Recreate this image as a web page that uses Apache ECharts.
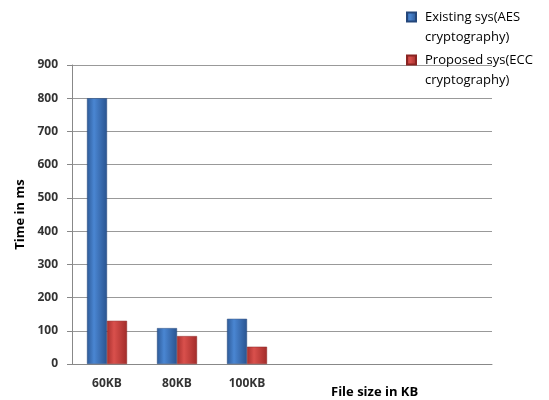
<!DOCTYPE html>
<html>
<head>
<meta charset="utf-8">
<script src="https://cdn.jsdelivr.net/npm/echarts@6/dist/echarts.min.js"></script>
<style>
  html, body { margin: 0; padding: 0; background: #fff; }
  #main { width: 549px; height: 400px; }
</style>
</head>
<body>
<div id="main"></div>
<script>
// categories (last three slots are empty in the original)
var categories = ['60KB', '80KB', '100KB', '', '', ''];
var existing = [800, 108, 136];
var proposed = [130, 84, 52];
var seriesNames = ['Existing sys(AES\ncryptography)', 'Proposed sys(ECC\ncryptography)'];
var yTicks = { min: 0, max: 900, step: 100 };

var font = 'Open Sans';

function grad(edge, mid, edge2) {
  return {
    type: 'linear', x: 0, y: 0, x2: 1, y2: 0,
    colorStops: [
      { offset: 0, color: edge },
      { offset: 0.35, color: mid },
      { offset: 1, color: edge2 }
    ]
  };
}

var chart = echarts.init(document.getElementById('main'));
chart.setOption({
  animation: false,
  title: {
    text: 'File size in KB',
    left: 326,
    top: 381,
    textStyle: { fontFamily: font, fontSize: 13, fontWeight: 'bold', color: '#000' }
  },
  legend: {
    orient: 'vertical',
    left: 401,
    top: -18,
    itemWidth: 9,
    itemHeight: 9,
    itemGap: -17,
    icon: 'rect',
    // empty first line keeps the marker level with the first text line
    formatter: function (name) { return '\n' + name; },
    textStyle: {
      fontFamily: font, fontSize: 13, color: '#000', lineHeight: 20,
      padding: [0, 0, 0, 4]
    },
    data: seriesNames
  },
  grid: { left: 72, right: 57, top: 65, bottom: 36 },
  xAxis: {
    type: 'category',
    data: categories,
    axisLine: { lineStyle: { color: '#888' } },
    axisTick: { length: 5, lineStyle: { color: '#888' } },
    axisLabel: { margin: 14, fontFamily: font, fontSize: 12, fontWeight: 'bold', color: '#333' }
  },
  yAxis: {
    type: 'value',
    min: yTicks.min,
    max: yTicks.max,
    interval: yTicks.step,
    name: 'Time in ms',
    nameLocation: 'middle',
    nameGap: 45,
    nameTextStyle: { fontFamily: font, fontSize: 13, fontWeight: 'bold', color: '#000' },
    axisLine: { show: true, lineStyle: { color: '#888' } },
    axisTick: { show: true, length: 5, lineStyle: { color: '#888' } },
    splitLine: { lineStyle: { color: '#999' } },
    axisLabel: { margin: 14, fontFamily: font, fontSize: 12, fontWeight: 'bold', color: '#333' }
  },
  series: [
    {
      name: seriesNames[0],
      type: 'bar',
      data: existing,
      barWidth: 20,
      barGap: '0%',
      itemStyle: {
        color: grad('#2d5a98', '#4a86d2', '#2a5490'),
        borderColor: '#24467a',
        borderWidth: 0.5
      }
    },
    {
      name: seriesNames[1],
      type: 'bar',
      data: proposed,
      barWidth: 20,
      barGap: '0%',
      itemStyle: {
        color: grad('#a8302e', '#d9504c', '#a22c2a'),
        borderColor: '#8a2422',
        borderWidth: 0.5
      }
    }
  ]
});
</script>
</body>
</html>
